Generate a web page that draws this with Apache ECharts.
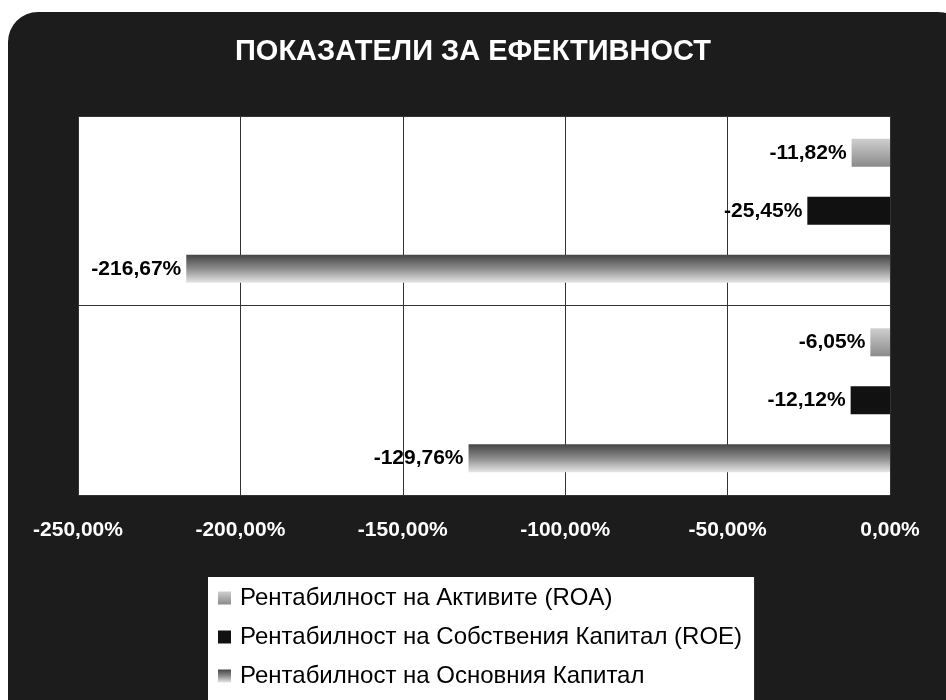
<!DOCTYPE html>
<html>
<head>
<meta charset="utf-8">
<script src="https://cdn.jsdelivr.net/npm/echarts@6/dist/echarts.min.js"></script>
<style>
  html, body { margin: 0; padding: 0; background: #fff; }
  #bg {
    position: absolute; left: 8px; top: 12px; width: 960px; height: 700px;
    background: #1c1c1c; border-radius: 30px 30px 0 0;
  }
  #main { position: absolute; left: 0; top: 0; width: 946px; height: 700px; }
</style>
</head>
<body>
<div id="bg"></div>
<div id="main"></div>
<script>
// данни
const categories = ['Период 1', 'Период 2'];
const seriesNames = [
  'Рентабилност на Активите (ROA)',
  'Рентабилност на Собствения Капитал (ROE)',
  'Рентабилност на Основния Капитал'
];
const roa = [-11.82, -6.05];
const roe = [-25.45, -12.12];
const rok = [-216.67, -129.76];
const xTicks = [-250, -200, -150, -100, -50, 0];

const fmt = v => v.toFixed(2).replace('.', ',') + '%';

const myChart = echarts.init(document.getElementById('main'));

const labelStyle = {
  show: true,
  position: 'left',
  distance: 5,
  color: '#000',
  fontFamily: 'Liberation Sans, Arial, sans-serif',
  fontWeight: 'bold',
  fontSize: 21,
  formatter: p => fmt(p.value)
};

myChart.setOption({
  backgroundColor: 'transparent',
  animation: false,
  title: {
    text: 'ПОКАЗАТЕЛИ ЗА ЕФЕКТИВНОСТ',
    left: 'center',
    top: 32,
    textStyle: {
      color: '#fff',
      fontFamily: 'Liberation Sans, Arial, sans-serif',
      fontWeight: 'bold',
      fontSize: 29
    }
  },
  legend: {
    orient: 'vertical',
    left: 208,
    top: 577,
    height: 300,
    backgroundColor: '#fff',
    padding: [8, 12, 13, 10],
    itemWidth: 13,
    itemHeight: 13,
    itemGap: 13,
    icon: 'rect',
    textStyle: {
      color: '#000',
      fontFamily: 'Liberation Sans, Arial, sans-serif',
      fontSize: 24,
      lineHeight: 26,
      padding: [0, 0, 0, 4]
    },
    data: seriesNames
  },
  grid: {
    left: 78,
    right: 56,
    top: 116,
    bottom: 205,
    show: true,
    backgroundColor: '#fff',
    borderWidth: 0
  },
  xAxis: {
    type: 'value',
    min: xTicks[0],
    max: xTicks[xTicks.length - 1],
    interval: 50,
    axisLine: { show: false },
    axisTick: { show: false },
    splitLine: { lineStyle: { color: '#333', width: 1 } },
    axisLabel: {
      margin: 25,
      color: '#fff',
      fontFamily: 'Liberation Sans, Arial, sans-serif',
      fontWeight: 'bold',
      fontSize: 21,
      formatter: v => fmt(v)
    }
  },
  yAxis: {
    type: 'category',
    inverse: true,
    data: categories,
    axisLine: { show: false },
    axisTick: { show: false },
    axisLabel: { show: false },
    splitLine: { show: true, lineStyle: { color: '#333', width: 1 } }
  },
  series: [
    {
      name: seriesNames[0],
      type: 'bar',
      data: roa,
      barWidth: 28,
      barGap: '107%',
      itemStyle: {
        color: new echarts.graphic.LinearGradient(0, 0, 0, 1, [
          { offset: 0, color: '#cfcfcf' },
          { offset: 1, color: '#8a8a8a' }
        ])
      },
      label: labelStyle
    },
    {
      name: seriesNames[1],
      type: 'bar',
      data: roe,
      barWidth: 28,
      barGap: '107%',
      itemStyle: { color: '#111' },
      label: labelStyle
    },
    {
      name: seriesNames[2],
      type: 'bar',
      data: rok,
      barWidth: 28,
      barGap: '107%',
      itemStyle: {
        color: new echarts.graphic.LinearGradient(0, 0, 0, 1, [
          { offset: 0, color: '#444' },
          { offset: 0.5, color: '#8c8c8c' },
          { offset: 1, color: '#e6e6e6' }
        ])
      },
      label: labelStyle
    }
  ]
});
</script>
</body>
</html>
